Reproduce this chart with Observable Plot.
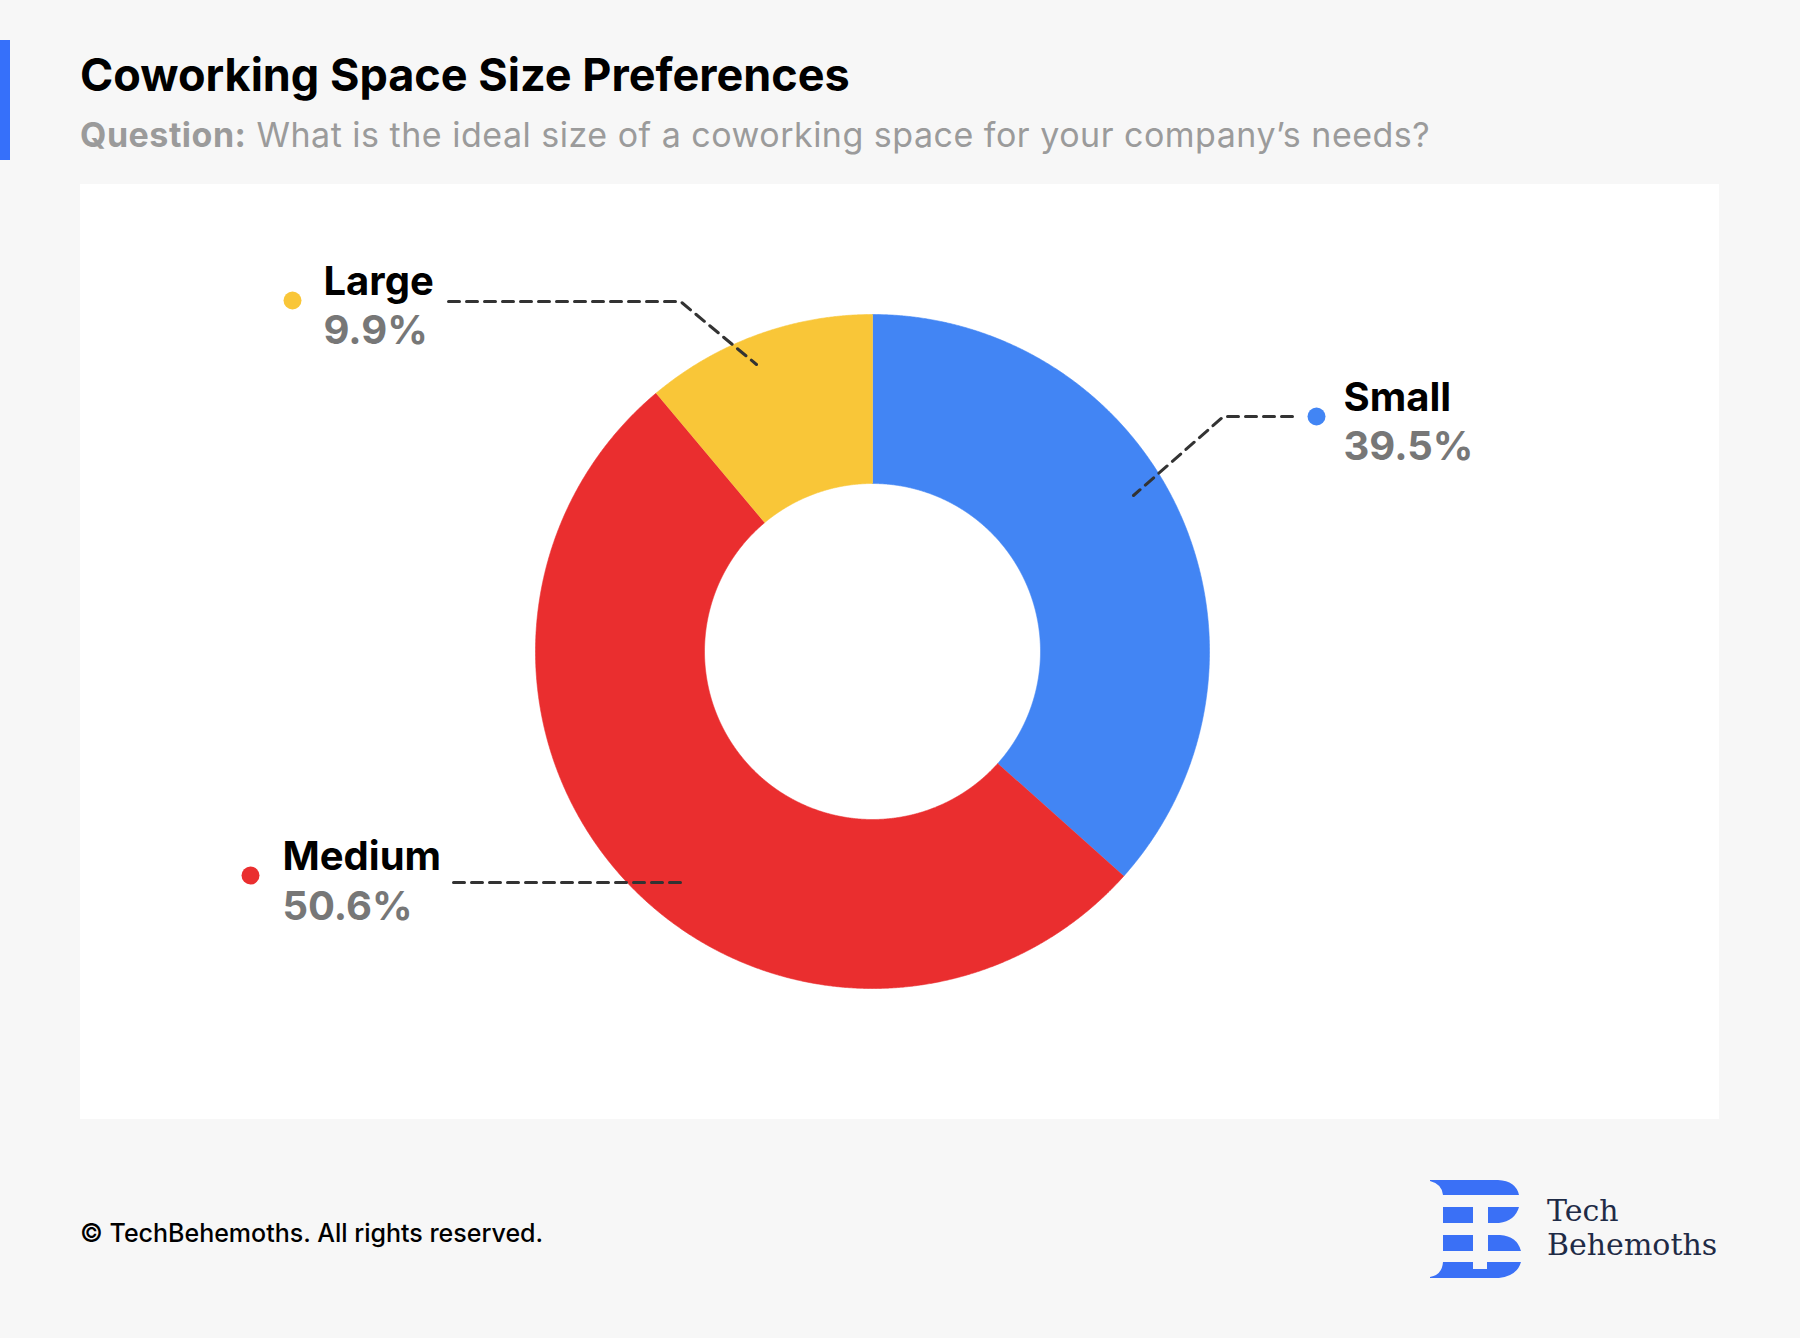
<!DOCTYPE html>
<html>
<head>
<meta charset="utf-8">
<script src="https://cdn.jsdelivr.net/npm/d3@7"></script>
<script src="https://cdn.jsdelivr.net/npm/@observablehq/plot@0.6"></script>
<style>
  html, body { margin: 0; padding: 0; }
  body { width: 1800px; height: 1338px; background: #f7f7f7; position: relative; overflow: hidden; font-family: Inter, "Noto Sans", sans-serif; }
  .accent { position: absolute; left: 0; top: 40px; width: 10px; height: 120px; background: #3670fa; }
  .title { position: absolute; left: 80px; top: 52px; font-size: 45px; line-height: 45px; font-weight: 700; color: #000; white-space: nowrap; }
  .subtitle { position: absolute; left: 80px; top: 118px; font-size: 34px; line-height: 34px; font-weight: 400; color: #9b9b9b; white-space: nowrap; letter-spacing: 0.5px; }
  .subtitle b { font-weight: 700; }
  #chart { position: absolute; left: 80px; top: 184px; }
  .footer { position: absolute; left: 80px; top: 1221px; font-size: 25px; line-height: 25px; font-weight: 500; color: #000; white-space: nowrap; }
  #logo { position: absolute; left: 1420px; top: 1170px; }
</style>
</head>
<body>
<div class="accent"></div>
<div class="title">Coworking Space Size Preferences</div>
<div class="subtitle"><b>Question:</b> What is the ideal size of a coworking space for your company’s needs?</div>
<div id="chart"></div>
<div class="footer">© TechBehemoths. All rights reserved.</div>
<svg id="logo" width="340" height="120" viewBox="1420 1170 340 120">
  <g fill="#3a70f6">
    <path d="M1430,1180 H1498 Q1516,1181 1519,1195 H1443 Q1442,1184 1430,1181 Z"/>
    <rect x="1443" y="1207" width="30" height="16"/>
    <path d="M1488,1207 H1519 Q1515,1221 1499,1223 H1488 Z"/>
    <rect x="1443" y="1235" width="30" height="16"/>
    <path d="M1488,1235 H1500 Q1517,1236 1521,1251 H1488 Z"/>
    <path d="M1443,1262 H1473 V1269 H1487 V1262 H1521 Q1517,1276 1499,1278 H1430 V1277 Q1442,1275 1443,1262 Z"/>
  </g>
  <text x="1547" y="1221" font-family="DejaVu Serif" font-size="30" fill="#1f2b46">Tech</text>
  <text x="1547" y="1255" font-family="DejaVu Serif" font-size="30" fill="#1f2b46">Behemoths</text>
</svg>
<script>
// ---- data ----
const categories = ["Small", "Medium", "Large"];
const pctLabels = ["39.5%", "50.6%", "9.9%"];          // labels printed on the chart
const drawnShares = [36.6, 52.3, 11.1];
const sliceColors = ["#4285F4", "#EA2E2F", "#F9C638"];

// ---- layout (pixels relative to donut centre) ----
const W = 1639, H = 935;
const CX = 792, CY = 467;
const OUTER_R = 337, INNER_R = 168;
const callouts = {
  Small:  {dot: [444, -235], textX: 471, nameY: -241, pctY: -192, path: [[420, -235], [351, -235], [261, -156]]},
  Medium: {dot: [-622, 224], textX: -590, nameY: 218, pctY: 268, path: [[-419, 231], [-189, 231]]},
  Large:  {dot: [-580, -351], textX: -549, nameY: -357, pctY: -308, path: [[-424, -350], [-192, -350], [-116, -287]]}
};

const rows = categories.map((c, i) => ({cat: c, value: drawnShares[i], pct: pctLabels[i]}));
const pie = d3.pie().sort(null).value(d => d.value)(rows);

const arcPts = pie.flatMap(p => {
  const n = Math.max(4, Math.ceil((p.endAngle - p.startAngle) / 0.004));
  const angles = d3.range(n + 1).map(i => p.startAngle + (p.endAngle - p.startAngle) * i / n);
  const outer = angles.map(a => ({cat: p.data.cat, x: OUTER_R * Math.sin(a), y: -OUTER_R * Math.cos(a)}));
  const inner = angles.slice().reverse().map(a => ({cat: p.data.cat, x: INNER_R * Math.sin(a), y: -INNER_R * Math.cos(a)}));
  return [...outer, ...inner];
});

const leaderPts = rows.flatMap(r => callouts[r.cat].path.map(([x, y]) => ({cat: r.cat, x, y})));
const labelRows = rows.map(r => ({...r, ...callouts[r.cat], dx0: callouts[r.cat].dot[0], dy0: callouts[r.cat].dot[1]}));

const chart = Plot.plot({
  width: W,
  height: H,
  margin: 0,
  style: {background: "#ffffff", overflow: "visible"},
  x: {domain: [-CX, W - CX], range: [0, W], axis: null},
  y: {domain: [-CY, H - CY], range: [0, H], axis: null},
  color: {domain: categories, range: sliceColors},
  marks: [
    Plot.line(arcPts, {x: "x", y: "y", z: "cat", fill: "cat", stroke: "cat", strokeWidth: 0.6, curve: "linear"}),
    Plot.line(leaderPts, {x: "x", y: "y", z: "cat", stroke: "#333333", strokeWidth: 3, strokeDasharray: "11,7"}),
    Plot.dot(labelRows, {x: "dx0", y: "dy0", fill: "cat", r: 9}),
    Plot.text(labelRows, {x: "textX", y: "nameY", text: "cat", textAnchor: "start", lineAnchor: "bottom", fill: "#000000", fontSize: 40, fontWeight: 700, fontFamily: "Inter"}),
    Plot.text(labelRows, {x: "textX", y: "pctY", text: "pct", textAnchor: "start", lineAnchor: "bottom", fill: "#777777", fontSize: 40, fontWeight: 700, fontFamily: "Inter"})
  ]
});
document.getElementById("chart").appendChild(chart);
</script>
</body>
</html>
